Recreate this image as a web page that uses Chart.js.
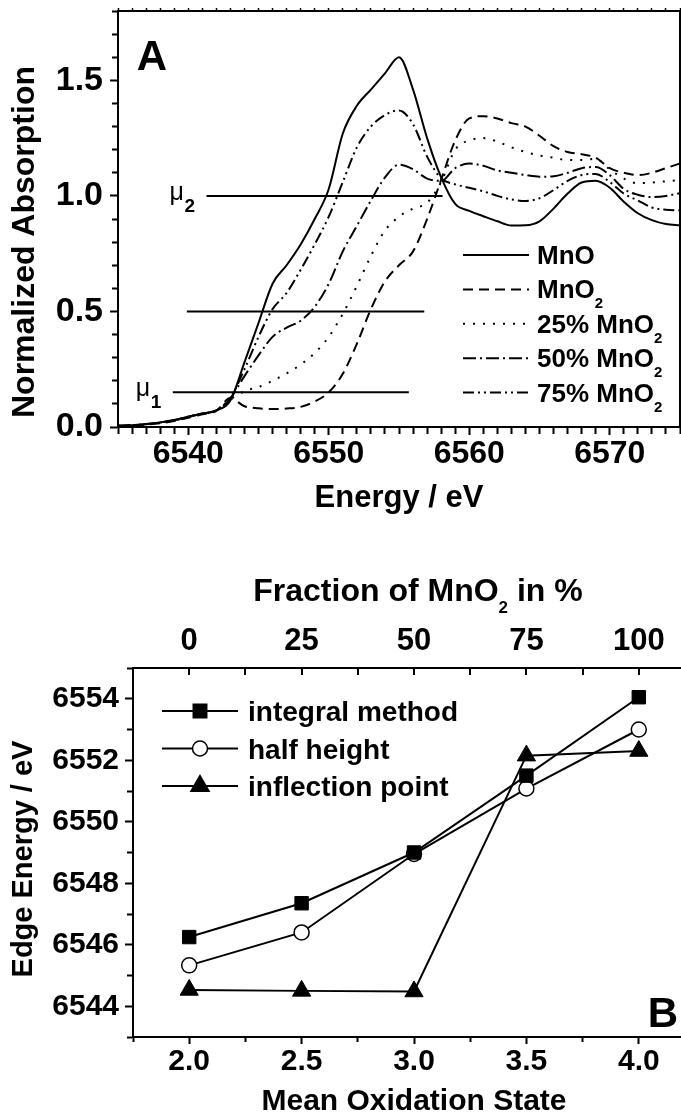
<!DOCTYPE html>
<html>
<head>
<meta charset="utf-8">
<script src="https://cdn.jsdelivr.net/npm/chart.js@4.4.1/dist/chart.umd.min.js"></script>
<style>
  html, body { margin: 0; padding: 0; background: #fff; overflow: hidden; width: 681px; height: 1115px; }
  #chartA { position: absolute; left: 0; top: 0; }
  #chartB { position: absolute; left: 0; top: 540px; }
</style>
</head>
<body>
<canvas id="chartA" width="720" height="520"></canvas>
<canvas id="chartB" width="720" height="580"></canvas>
<script>
// Panel A: normalized Mn K-edge spectra
const energies = [6535, 6536, 6537, 6538, 6539, 6540, 6541, 6542, 6543, 6544,
                  6545, 6546, 6547, 6548, 6549, 6550, 6551, 6552, 6553, 6554,
                  6555, 6556, 6557, 6558, 6559, 6560, 6561, 6562, 6563, 6564,
                  6565, 6566, 6567, 6568, 6569, 6570, 6571, 6572, 6573, 6574, 6575];
const absMnO  = [0.005, 0.008, 0.013, 0.020, 0.030, 0.045, 0.058, 0.072, 0.115, 0.28,
                 0.45, 0.62, 0.70, 0.79, 0.90, 1.03, 1.27, 1.39, 1.46, 1.53,
                 1.60, 1.46, 1.25, 1.08, 0.965, 0.935, 0.912, 0.89, 0.872, 0.873,
                 0.89, 0.945, 1.01, 1.058, 1.065, 1.035, 0.975, 0.925, 0.895, 0.878, 0.873];
const absMnO2 = [0.004, 0.006, 0.010, 0.016, 0.026, 0.040, 0.055, 0.070, 0.125, 0.09,
                 0.081, 0.078, 0.080, 0.087, 0.11, 0.15, 0.23, 0.36, 0.51, 0.63,
                 0.70, 0.76, 0.90, 1.07, 1.24, 1.335, 1.345, 1.335, 1.315, 1.30,
                 1.26, 1.215, 1.19, 1.18, 1.165, 1.12, 1.10, 1.09, 1.10, 1.12, 1.14];
const abs25   = [0.005, 0.008, 0.012, 0.018, 0.028, 0.043, 0.057, 0.072, 0.12, 0.155,
                 0.173, 0.20, 0.232, 0.27, 0.32, 0.39, 0.49, 0.61, 0.74, 0.85,
                 0.91, 0.945, 0.97, 1.06, 1.20, 1.24, 1.25, 1.235, 1.21, 1.19,
                 1.175, 1.165, 1.155, 1.155, 1.16, 1.115, 1.075, 1.055, 1.058, 1.063, 1.068];
const abs50   = [0.005, 0.008, 0.012, 0.019, 0.029, 0.044, 0.057, 0.072, 0.125, 0.22,
                 0.31, 0.39, 0.43, 0.46, 0.52, 0.62, 0.76, 0.87, 0.98, 1.08,
                 1.135, 1.115, 1.075, 1.065, 1.12, 1.14, 1.13, 1.11, 1.10, 1.09,
                 1.083, 1.085, 1.10, 1.12, 1.125, 1.09, 1.03, 1.005, 0.995, 1.00, 1.012];
const abs75   = [0.005, 0.008, 0.013, 0.019, 0.030, 0.045, 0.058, 0.072, 0.125, 0.25,
                 0.39, 0.51, 0.58, 0.68, 0.79, 0.91, 1.06, 1.21, 1.30, 1.35,
                 1.37, 1.31, 1.17, 1.075, 1.05, 1.035, 1.02, 1.00, 0.985, 0.978,
                 0.99, 1.025, 1.065, 1.09, 1.095, 1.06, 1.01, 0.98, 0.95, 0.94, 0.937];
const spectraLabels = ['MnO', 'MnO2', '25% MnO2', '50% MnO2', '75% MnO2'];

const muLevels = [1.0, 0.5, 0.15];
const muStart  = [6541.3, 6539.9, 6538.9];
const muEnd    = [6558.1, 6556.8, 6555.7];
const muNames  = [['\u03bc', '2'], null, ['\u03bc', '1']];

// Panel B: edge energy vs. oxidation state
const oxidationStates = [2.0, 2.5, 3.0, 3.5, 4.0];
const fractionLabels  = ['0', '25', '50', '75', '100'];
const edgeIntegral    = [6546.25, 6547.35, 6549.0, 6551.5, 6554.05];
const edgeHalfHeight  = [6545.33, 6546.4, 6548.95, 6551.08, 6553.0];
const edgeInflection  = [6544.53, 6544.5, 6544.48, 6552.15, 6552.3];
const methodLabels    = ['integral method', 'half height', 'inflection point'];

const FAMILY = "'Liberation Sans', Arial, sans-serif";
const bold = s => 'bold ' + s + 'px ' + FAMILY;
const near = (a, b) => Math.abs(a - b) < 1e-6;

// fixed axis sizes, no extra room for the edge labels
function fixWidth(w) {
  return s => { s.width = w; s.paddingTop = 0; s.paddingBottom = 0; };
}
function fixHeight(h) {
  return s => { s.height = h; s.paddingLeft = 0; s.paddingRight = 0; };
}

// text with a subscript 2 after "MnO"
function formulaParts(label, size, subSize, drop) {
  const k = label.indexOf('O2');
  if (k < 0) return [{ t: label, f: bold(size), dy: 0 }];
  return [
    { t: label.slice(0, k + 1), f: bold(size), dy: 0 },
    { t: '2', f: bold(subSize), dy: drop },
    { t: label.slice(k + 2), f: bold(size), dy: 0 }
  ];
}
function drawParts(ctx, parts, x, y, align) {
  let w = 0;
  parts.forEach(p => { ctx.font = p.f; w += ctx.measureText(p.t).width; });
  let cx = align === 'center' ? x - w / 2 : x;
  ctx.textAlign = 'left';
  parts.forEach(p => {
    ctx.font = p.f;
    ctx.fillText(p.t, cx, y + p.dy);
    cx += ctx.measureText(p.t).width;
  });
}

// ---------- chart A ----------
const dashA = [[], [10, 6], [2, 8], [13, 4, 2, 4], [11, 4, 2, 4, 2, 4]];
const spectra = [absMnO, absMnO2, abs25, abs50, abs75];

const spectraSets = spectra.map((vals, i) => ({
  label: spectraLabels[i],
  data: energies.map((e, k) => ({ x: e, y: vals[k] })),
  borderColor: '#000',
  borderWidth: 2,
  borderDash: dashA[i],
  pointRadius: 0,
  cubicInterpolationMode: 'monotone',
  fill: false
}));
const muSets = muLevels.map((lv, i) => ({
  label: 'mu' + i,
  data: [{ x: muStart[i], y: lv }, { x: muEnd[i], y: lv }],
  borderColor: '#000',
  borderWidth: 2,
  pointRadius: 0
}));

const annotateA = {
  id: 'annotateA',
  afterDraw(chart) {
    const { ctx, chartArea, scales } = chart;
    ctx.save();
    ctx.fillStyle = '#000';
    ctx.textBaseline = 'alphabetic';

    ctx.font = bold(42);
    ctx.textAlign = 'center';
    ctx.fillText('A', 152, 70);

    ctx.font = bold(31);
    ctx.fillText('Energy / eV', (chartArea.left + chartArea.right) / 2, 507);

    ctx.save();
    ctx.translate(25, 242);
    ctx.rotate(-Math.PI / 2);
    ctx.font = bold(32);
    ctx.textBaseline = 'middle';
    ctx.fillText('Normalized Absorption', 0, 0);
    ctx.restore();

    // mu labels
    muNames.forEach((nm, i) => {
      if (!nm) return;
      const x0 = scales.x.getPixelForValue(muStart[i]) - 37;
      const y0 = scales.y.getPixelForValue(muLevels[i]);
      ctx.textAlign = 'left';
      ctx.font = '25px ' + FAMILY;
      ctx.fillText(nm[0], x0, y0 + 4);
      ctx.font = bold(19);
      ctx.fillText(nm[1], x0 + 15, y0 + 16);
    });

    // legend
    spectraLabels.forEach((lab, i) => {
      const y = 255 + i * 34.4;
      ctx.save();
      ctx.strokeStyle = '#000';
      ctx.lineWidth = 2;
      ctx.setLineDash(dashA[i]);
      ctx.beginPath();
      ctx.moveTo(463, y);
      ctx.lineTo(529, y);
      ctx.stroke();
      ctx.restore();
      drawParts(ctx, formulaParts(lab, 26, 15, 10), 537, y + 9, 'left');
    });
    ctx.restore();
  }
};

new Chart(document.getElementById('chartA'), {
  type: 'line',
  data: { datasets: spectraSets.concat(muSets) },
  options: {
    responsive: false,
    animation: false,
    layout: { padding: { left: 0, right: 40, top: 0, bottom: 0 } },
    plugins: { legend: { display: false }, tooltip: { enabled: false } },
    scales: {
      x: {
        type: 'linear', position: 'bottom', min: 6535, max: 6575,
        afterFit: fixHeight(93),
        ticks: {
          stepSize: 1, autoSkip: false, maxRotation: 0, minRotation: 0, padding: 0,
          color: '#000', font: { family: FAMILY, size: 32, weight: 'bold' },
          callback: v => (v % 10 === 0 ? String(v) : '')
        },
        grid: {
          drawOnChartArea: false, tickLength: 8, tickColor: '#000', tickWidth: 2,
          tickBorderDash: c => (c.tick && c.tick.value % 10 === 0 ? [] : [6, 100])
        },
        border: { display: true, color: '#000', width: 2 }
      },
      xTop: {
        type: 'linear', position: 'top', min: 6535, max: 6575,
        afterFit: fixHeight(11),
        ticks: { display: false, stepSize: 1, autoSkip: false },
        grid: { drawOnChartArea: false, tickLength: 3, tickColor: '#000', tickWidth: 1.5 },
        border: { display: true, color: '#000', width: 2 }
      },
      y: {
        type: 'linear', position: 'left', min: 0, max: 1.8,
        afterFit: fixWidth(118),
        ticks: {
          stepSize: 0.1, autoSkip: false, padding: 7,
          color: '#000', font: { family: FAMILY, size: 34, weight: 'bold' },
          callback: v => (near(v * 2, Math.round(v * 2)) ? v.toFixed(1) : '')
        },
        grid: {
          drawOnChartArea: false, tickLength: 8, tickColor: '#000', tickWidth: 2,
          tickBorderDash: c => (c.tick && near(c.tick.value * 2, Math.round(c.tick.value * 2)) ? [] : [0, 2, 5, 100])
        },
        border: { display: true, color: '#000', width: 2 }
      },
      yRight: {
        type: 'linear', position: 'right', min: 0, max: 1.8,
        afterFit: fixWidth(0),
        ticks: { display: false },
        grid: { drawOnChartArea: false, drawTicks: false },
        border: { display: true, color: '#000', width: 2 }
      }
    }
  },
  plugins: [annotateA]
});

// ---------- chart B ----------
const methodSeries = [edgeIntegral, edgeHalfHeight, edgeInflection];
const markerStyle = ['rect', 'circle', 'triangle'];
const markerRadius = [9.5, 7.5, 10.5];
const markerFill = ['#000', '#fff', '#000'];

const methodSets = methodSeries.map((vals, i) => ({
  label: methodLabels[i],
  data: oxidationStates.map((o, k) => ({ x: o, y: vals[k] })),
  borderColor: '#000',
  borderWidth: 2,
  pointStyle: markerStyle[i],
  pointRadius: markerRadius[i],
  pointBackgroundColor: markerFill[i],
  pointBorderColor: '#000',
  pointBorderWidth: i === 1 ? 1.5 : 1,
  tension: 0,
  fill: false
}));

function drawMarker(ctx, style, x, y, r, fillC) {
  ctx.beginPath();
  if (style === 'rect') {
    const h = r * Math.SQRT1_2;
    ctx.rect(x - h, y - h, 2 * h, 2 * h);
  } else if (style === 'circle') {
    ctx.arc(x, y, r, 0, Math.PI * 2);
  } else {
    for (let k = 0; k < 3; k++) {
      const a = k * 2 * Math.PI / 3;
      const px = x + Math.sin(a) * r, py = y - Math.cos(a) * r;
      if (k === 0) ctx.moveTo(px, py); else ctx.lineTo(px, py);
    }
    ctx.closePath();
  }
  ctx.fillStyle = fillC;
  ctx.fill();
  ctx.lineWidth = 1.5;
  ctx.strokeStyle = '#000';
  ctx.stroke();
}

const annotateB = {
  id: 'annotateB',
  afterDraw(chart) {
    const { ctx } = chart;
    ctx.save();
    ctx.fillStyle = '#000';
    ctx.textBaseline = 'alphabetic';

    drawParts(ctx, formulaParts('Fraction of MnO2 in %', 32, 17, 12), 418, 61, 'center');

    ctx.fillStyle = '#000';
    ctx.font = bold(30);
    ctx.textAlign = 'center';
    ctx.fillText('Mean Oxidation State', 414, 570);

    ctx.font = bold(42);
    ctx.fillText('B', 663, 487);

    ctx.save();
    ctx.translate(24, 319);
    ctx.rotate(-Math.PI / 2);
    ctx.font = bold(29);
    ctx.textBaseline = 'middle';
    ctx.fillText('Edge Energy / eV', 0, 0);
    ctx.restore();

    // legend
    methodLabels.forEach((lab, i) => {
      const y = 171 + i * 37.5;
      ctx.strokeStyle = '#000';
      ctx.lineWidth = 2;
      ctx.beginPath();
      ctx.moveTo(162, y);
      ctx.lineTo(238, y);
      ctx.stroke();
      drawMarker(ctx, markerStyle[i], 200, y, markerRadius[i], markerFill[i]);
      ctx.fillStyle = '#000';
      ctx.font = bold(28);
      ctx.textAlign = 'left';
      ctx.fillText(lab, 248, y + 10);
    });
    ctx.restore();
  }
};

new Chart(document.getElementById('chartB'), {
  type: 'line',
  data: { datasets: methodSets },
  options: {
    responsive: false,
    animation: false,
    layout: { padding: { left: 0, right: 25, top: 0, bottom: 0 } },
    plugins: { legend: { display: false }, tooltip: { enabled: false } },
    scales: {
      x: {
        type: 'linear', position: 'bottom', min: 1.75, max: 4.25,
        afterFit: fixHeight(83),
        ticks: {
          stepSize: 0.25, autoSkip: false, maxRotation: 0, minRotation: 0, padding: 0,
          color: '#000', font: { family: FAMILY, size: 30, weight: 'bold' },
          callback: v => (oxidationStates.some(o => near(o, v)) ? v.toFixed(1) : '')
        },
        grid: {
          drawOnChartArea: false, tickLength: 7, tickColor: '#000', tickWidth: 2,
          tickBorderDash: c => (c.tick && oxidationStates.some(o => near(o, c.tick.value)) ? [] : [4, 100])
        },
        border: { display: true, color: '#000', width: 2 }
      },
      xTop: {
        type: 'linear', position: 'top', min: 1.75, max: 4.25,
        afterFit: fixHeight(128),
        ticks: {
          stepSize: 0.25, autoSkip: false, maxRotation: 0, minRotation: 0, padding: 8,
          color: '#000', font: { family: FAMILY, size: 31, weight: 'bold' },
          callback: v => {
            const k = oxidationStates.findIndex(o => near(o, v));
            return k >= 0 ? fractionLabels[k] : '';
          }
        },
        // short inward ticks: grid lines dashed so only their top end shows
        grid: { drawOnChartArea: true, drawTicks: false, color: '#000', lineWidth: 2 },
        border: { display: true, color: '#000', width: 2, dash: [6, 3000] }
      },
      y: {
        type: 'linear', position: 'left', min: 6543, max: 6555,
        afterFit: fixWidth(133),
        ticks: {
          stepSize: 1, autoSkip: false, padding: 6,
          color: '#000', font: { family: FAMILY, size: 30, weight: 'bold' },
          callback: v => (v % 2 === 0 ? String(v) : '')
        },
        grid: {
          drawOnChartArea: false, tickLength: 8, tickColor: '#000', tickWidth: 2,
          tickBorderDash: c => (c.tick && c.tick.value % 2 === 0 ? [] : [0, 2, 5, 100])
        },
        border: { display: true, color: '#000', width: 2 }
      }
    }
  },
  plugins: [annotateB]
});
</script>
</body>
</html>
